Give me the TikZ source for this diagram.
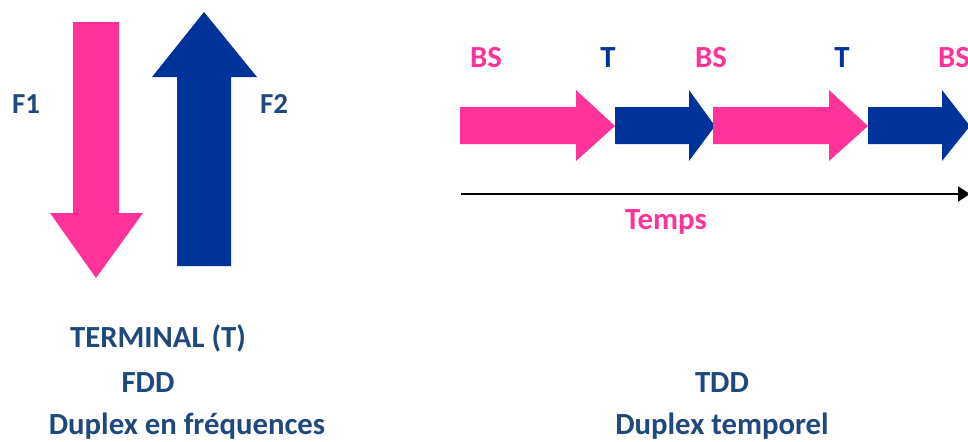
\documentclass[tikz,border=0pt]{standalone}
\usepackage{fontspec}
\setmainfont{Carlito}
\usetikzlibrary{arrows.meta}
\definecolor{rose}{RGB}{255,51,153}
\definecolor{bleu}{RGB}{0,51,153}
\definecolor{titre}{RGB}{31,73,125}

\begin{document}
\begin{tikzpicture}
    [
      x = 0.02cm, y = -0.02cm,
      lbl/.style = {font=\bfseries\fontsize{17.5}{20}\selectfont},
      flbl/.style = {font=\bfseries\fontsize{16.5}{19}\selectfont, text=titre},
      pinkfill/.style = {fill=rose},
      bluefill/.style = {fill=bleu},
      timeline/.style = {line width=1.1pt, -{Triangle[length=0.24cm, width=0.3cm]}},
    ]

    \useasboundingbox (0,0) rectangle (968,441);

    % FDD : two opposite arrows
    \fill[pinkfill] (73,22) -- (119,22) -- (119,213) -- (143,213) -- (96,278)
      -- (50,213) -- (73,213) -- cycle;
    \fill[bluefill] (177,266) -- (231,266) -- (231,77) -- (257,77) -- (204,12)
      -- (152,77) -- (177,77) -- cycle;

    \node[flbl] (f1) at (26,104) {F1};
    \node[flbl] (f2) at (274,104) {F2};

    % TDD : slots one after the other
    \fill[pinkfill] (460,107) -- (576,107) -- (576,90) -- (615,126)
      -- (576,161) -- (576,144) -- (460,144) -- cycle;
    \fill[bluefill] (615,107) -- (689,107) -- (689,90) -- (715,126)
      -- (689,161) -- (689,144) -- (615,144) -- cycle;
    \fill[pinkfill] (713,107) -- (829,107) -- (829,90) -- (868,126)
      -- (829,161) -- (829,144) -- (713,144) -- cycle;
    \fill[bluefill] (868,107) -- (942,107) -- (942,90) -- (970,126)
      -- (942,161) -- (942,144) -- (868,144) -- cycle;

    \node[lbl, text=rose] (bs1) at (486,58) {BS};
    \node[lbl, text=bleu] (t1) at (608,58) {T};
    \node[lbl, text=rose] (bs2) at (711,58) {BS};
    \node[lbl, text=bleu] (t2) at (842,58) {T};
    \node[lbl, text=rose] (bs3) at (954,58) {BS};

    \coordinate (debut) at (461,194);
    \coordinate (fin) at (970,194);
    \draw[timeline] (debut) -- (fin);
    \node[lbl, text=rose] (temps) at (666,222) {Temps};

    % titles
    \node[lbl, text=titre] (term) at (158,338) {TERMINAL (T)};
    \node[lbl, text=titre] (fdd) at (148,383) {FDD};
    \node[lbl, text=titre] (fddtxt) at (187,426) {Duplex en fréquences};
    \node[lbl, text=titre] (tdd) at (722,383) {TDD};
    \node[lbl, text=titre] (tddtxt) at (722,426) {Duplex temporel};

  \end{tikzpicture}
\end{document}
